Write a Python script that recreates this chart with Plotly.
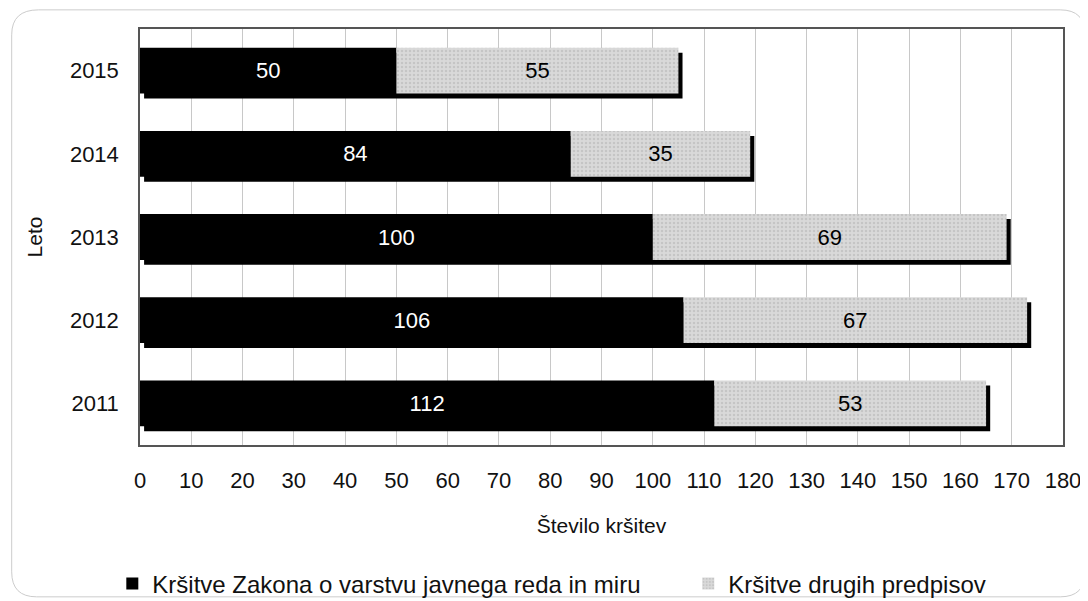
import plotly.graph_objects as go

years = ["2011", "2012", "2013", "2014", "2015"]
zakon = [112, 106, 100, 84, 50]
drugi = [53, 67, 69, 35, 55]
x_ticks = list(range(0, 181, 10))

pos = list(range(len(years)))
totals = [a + b for a, b in zip(zakon, drugi)]
BW = 0.55
FONT = "Liberation Sans, Arial, sans-serif"
FS = 22

fig = go.Figure()
# shadow behind bars
fig.add_trace(go.Bar(
    y=[p - 0.06 for p in pos], x=totals, base=[0.8] * len(pos), orientation="h",
    width=BW, marker=dict(color="#000000", line=dict(width=0)),
    showlegend=False, hoverinfo="skip",
))
fig.add_trace(go.Bar(
    y=pos, x=zakon, base=[0] * len(pos), orientation="h", width=BW,
    name="Kršitve Zakona o varstvu javnega reda in miru", legend="legend",
    marker=dict(color="#000000", line=dict(width=0)),
    text=zakon, textposition="inside", insidetextanchor="middle",
    textfont=dict(color="white", size=FS, family=FONT),
))
fig.add_trace(go.Bar(
    y=pos, x=drugi, base=zakon, orientation="h", width=BW,
    name="Kršitve drugih predpisov", legend="legend2",
    marker=dict(color="#d6d6d6", line=dict(width=0),
                pattern=dict(shape=".", fgcolor="#b0b0b0", bgcolor="#d9d9d9",
                             size=4, solidity=0.3)),
    text=drugi, textposition="inside", insidetextanchor="middle",
    textfont=dict(color="black", size=FS, family=FONT),
))

leg_common = dict(orientation="h", yanchor="middle", font=dict(size=24, color="#111111"),
                  bgcolor="rgba(0,0,0,0)", itemsizing="constant")

fig.update_layout(
    width=1088, height=601,
    barmode="overlay",
    paper_bgcolor="white", plot_bgcolor="white",
    margin=dict(l=132, r=33, t=21, b=164, autoexpand=False),
    font=dict(family=FONT, size=FS, color="#111111"),
    xaxis=dict(
        range=[0, 180], tickvals=x_ticks, ticktext=[str(v) for v in x_ticks],
        showgrid=True, gridcolor="#c8c8c8", gridwidth=1,
        showline=True, linecolor="#555555", linewidth=1.5, mirror=True,
        ticks="", zeroline=False, ticklabelstandoff=15, automargin=False,
        title=dict(text="Število kršitev", font=dict(size=21), standoff=26),
        tickfont=dict(size=FS),
    ),
    yaxis=dict(
        range=[-0.5, 4.5], tickvals=pos, ticktext=years,
        showgrid=False, showline=True, linecolor="#555555", linewidth=1.5, mirror=True,
        ticks="", zeroline=False, ticklabelstandoff=15, automargin=False,
        title=dict(text="Leto", font=dict(size=21), standoff=22),
        tickfont=dict(size=FS),
    ),
    legend=dict(x=-0.03, xanchor="left", y=-0.334, **leg_common),
    legend2=dict(x=0.594, xanchor="left", y=-0.334, **leg_common),
    shapes=[dict(
        type="path", xref="paper", yref="paper",
        path="M -0.11,1.046 L 0.997,1.046 Q 1.024,1.046 1.024,0.986 "
             "L 1.024,-0.305 Q 1.024,-0.365 0.997,-0.365 "
             "L -0.112,-0.365 Q -0.139,-0.365 -0.139,-0.305 "
             "L -0.139,0.986 Q -0.139,1.046 -0.11,1.046 Z",
        line=dict(color="#cccccc", width=1), layer="below",
    )],
)

fig.write_html("out.html")
